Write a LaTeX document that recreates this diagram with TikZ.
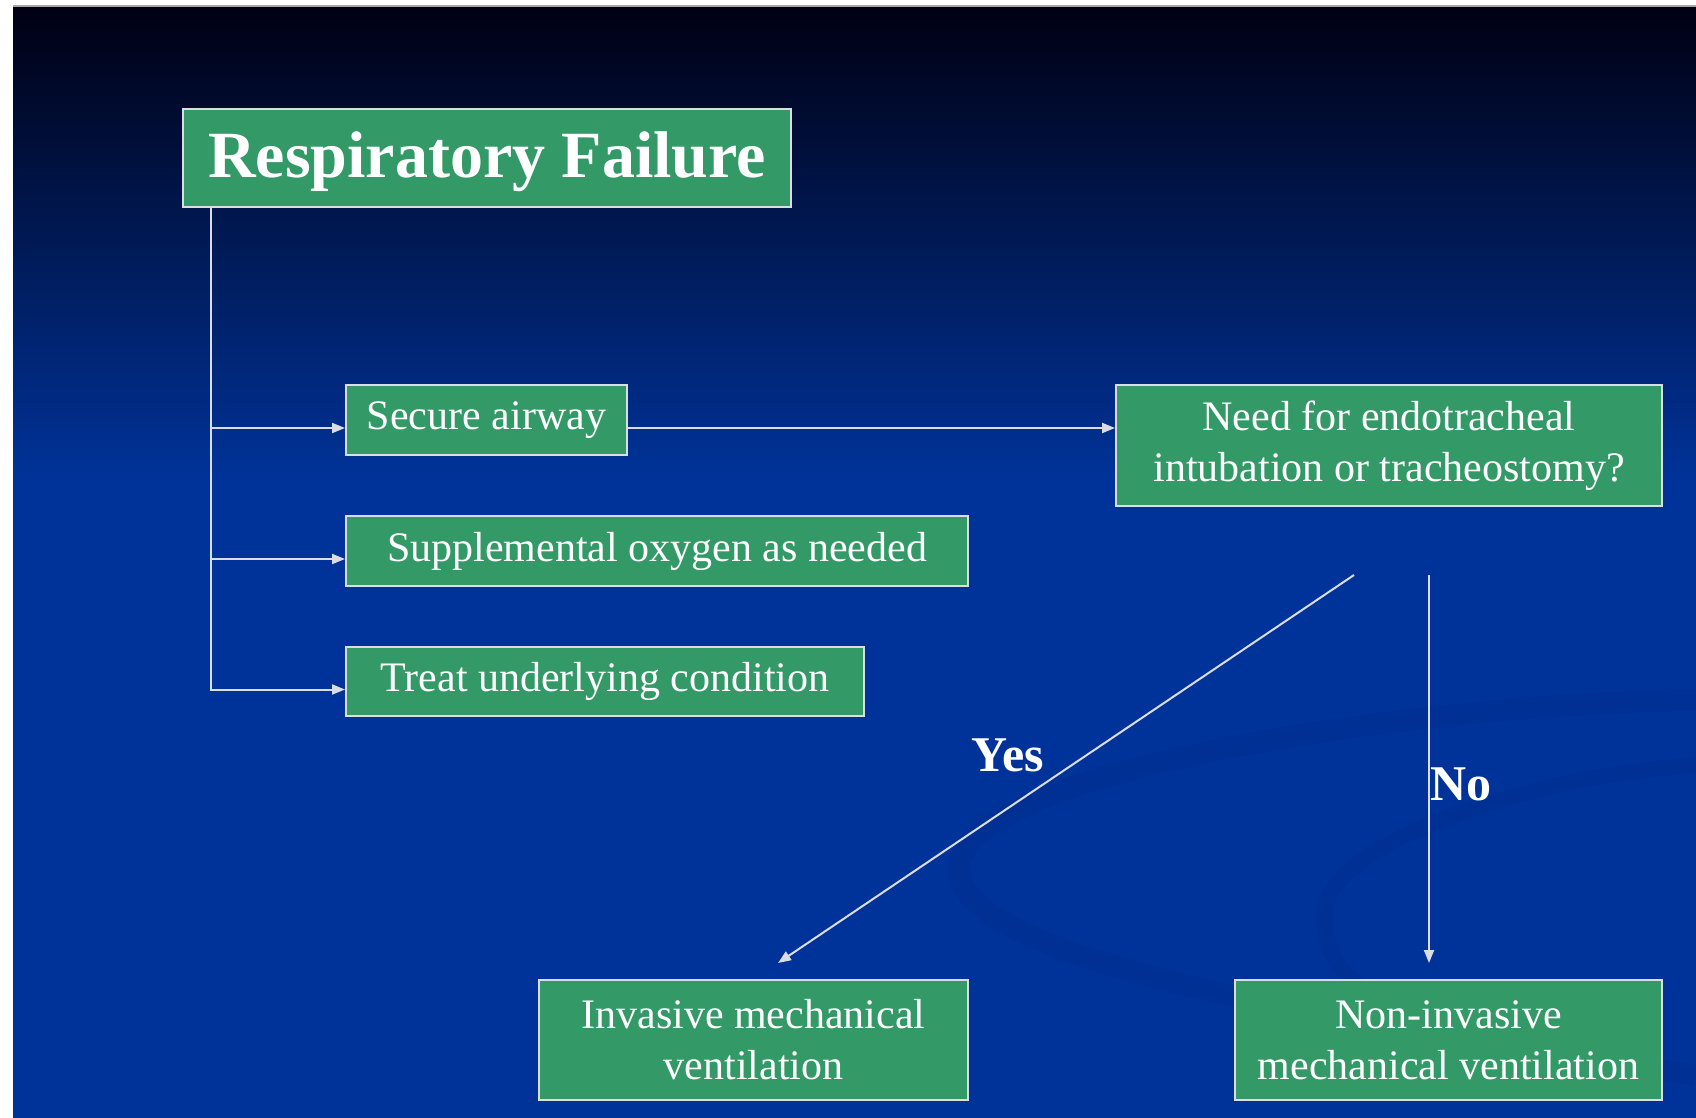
\documentclass[tikz,border=0pt]{standalone}
\usepackage{fontspec}
\setmainfont{Liberation Serif}
\usetikzlibrary{positioning,arrows.meta,calc}
\definecolor{slide}{HTML}{003399}
\definecolor{slidetop}{HTML}{000012}
\definecolor{slidemid}{HTML}{001C5C}
\definecolor{boxgreen}{HTML}{339966}
\definecolor{rim}{HTML}{DCDCE4}
\definecolor{swirl}{HTML}{002E8E}

\begin{document}
\begin{tikzpicture}[x=0.5pt, y=-0.5pt,
    card/.style={draw=rim, line width=1pt, fill=boxgreen, text=white, align=center, anchor=north west, inner sep=0pt, font=\fontsize{21}{25.5}\selectfont},
    link/.style={draw=rim, line width=1pt, -{Triangle[length=6.5pt, width=5pt]}},
    verdict/.style={text=white, inner sep=0pt, font=\fontsize{25}{29}\selectfont\bfseries}]
  % slide background
  \useasboundingbox (0,0) rectangle (1696,1118);
  \fill[white] (0,0) rectangle (1696,1118);
  \fill[slide] (13,6) rectangle (1696,1118);
  \shade[top color=slidetop, middle color=slidemid, bottom color=slide] (13,6) rectangle (1696,480);
  \draw[gray!70, line width=1pt] (13,6) -- (1696,6);
  \draw[swirl, line width=11pt, opacity=0.45] (1696,700) .. controls (1400,705) and (985,770) .. (960,860) .. controls (940,950) and (1250,1010) .. (1696,1075);
  \draw[swirl, line width=8pt, opacity=0.45] (1696,765) .. controls (1500,780) and (1330,850) .. (1325,910) .. controls (1322,960) and (1350,985) .. (1380,995);

  % boxes
  \node[card, minimum width=304pt, minimum height=49pt, text height=27pt, text depth=7pt, font=\fontsize{33}{36}\selectfont\bfseries] (fail) at (182,108) {Respiratory Failure};
  \node[card, minimum width=140.5pt, minimum height=35pt] (airway) at (345,384) {Secure airway};
  \node[card, minimum width=311pt, minimum height=35pt] (oxygen) at (345,515) {Supplemental oxygen as needed};
  \node[card, minimum width=259pt, minimum height=34.5pt] (treat) at (345,646) {Treat underlying condition};
  \node[card, minimum width=273pt, minimum height=60.5pt] (intub) at (1115,384) {Need for endotracheal\\intubation or tracheostomy?};
  \node[card, minimum width=214.5pt, minimum height=60pt] (invasive) at (538,979) {Invasive mechanical\\ventilation};
  \node[card, minimum width=213.5pt, minimum height=60pt] (noninv) at (1234,979) {Non-invasive\\mechanical ventilation};

  % left branch
  \coordinate (trunk) at ([xshift=14.5pt]fail.south west);
  \draw[link] (trunk) |- ([yshift=-4pt]treat.west);
  \draw[link] ([yshift=-4pt]airway.west -| trunk) -- ([yshift=-4pt]airway.west);
  \draw[link] ([yshift=-4pt]oxygen.west -| trunk) -- ([yshift=-4pt]oxygen.west);
  \draw[link] ([yshift=-4pt]airway.east) -- ([yshift=-4pt]airway.east -| intub.west);

  % decision
  \coordinate (yes-top) at ([xshift=-17.5pt, yshift=-34pt]intub.south);
  \coordinate (yes-end) at ([xshift=12.25pt, yshift=8pt]invasive.north);
  \coordinate (no-top) at ([xshift=20pt, yshift=-34pt]intub.south);
  \coordinate (no-end) at ([xshift=-9.75pt, yshift=8pt]noninv.north);
  \draw[link] (yes-top) -- (yes-end);
  \draw[link] (no-top) -- (no-end);
  \node[verdict] (yes) at (1008,755) {Yes};
  \node[verdict, anchor=west] (no) at (1430,784) {No};
\end{tikzpicture}
\end{document}
